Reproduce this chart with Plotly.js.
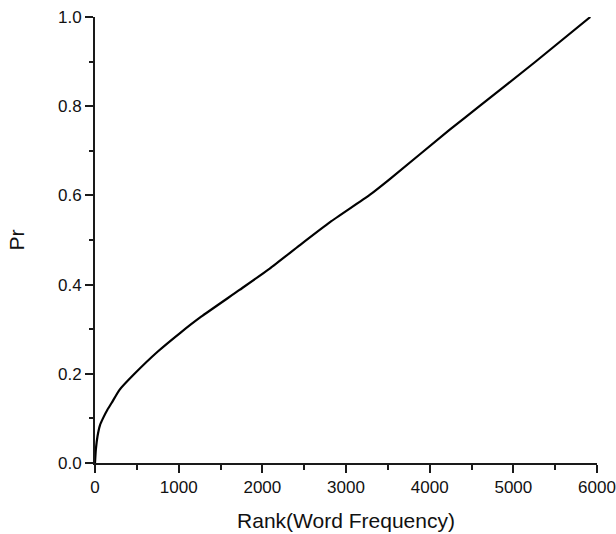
<!DOCTYPE html>
<html>
<head>
<meta charset="utf-8">
<script src="https://cdn.plot.ly/plotly-3.0.1.min.js"></script>
<style>
  html, body { margin: 0; padding: 0; background: #ffffff; }
  #chart { width: 616px; height: 534px; }
</style>
</head>
<body>
<div id="chart"></div>
<script>
// Cumulative probability Pr against word-frequency rank
const rank = [0, 10, 30, 60, 95, 150, 200, 293, 472, 751, 1020, 1269, 1727,
              2088, 2445, 2809, 3283, 3520, 4244, 4595, 5253, 5920];
const pr   = [0, 0.03, 0.06, 0.085, 0.1, 0.12, 0.135, 0.164, 0.2, 0.25, 0.292, 0.328, 0.388,
              0.436, 0.488, 0.540, 0.601, 0.636, 0.748, 0.800, 0.898, 1.0];

const xTicks = [0, 1000, 2000, 3000, 4000, 5000, 6000];
const yTicks = [0, 0.2, 0.4, 0.6, 0.8, 1.0];

const axisColor = '#1a1a1a';
const fontFamily = 'Liberation Sans, Arial, sans-serif';

const trace = {
  x: rank,
  y: pr,
  type: 'scatter',
  mode: 'lines',
  line: { color: '#000000', width: 2.2, shape: 'spline', smoothing: 0.5 },
  hoverinfo: 'skip'
};

const layout = {
  width: 616,
  height: 534,
  margin: { l: 95, r: 19, t: 17, b: 71 },
  paper_bgcolor: '#ffffff',
  plot_bgcolor: '#ffffff',
  showlegend: false,
  font: { family: fontFamily, color: '#111111' },
  xaxis: {
    range: [0, 6000],
    tickvals: xTicks,
    tickformat: 'd',
    ticks: 'outside',
    ticklen: 8,
    tickwidth: 2,
    tickcolor: axisColor,
    showline: true,
    linecolor: axisColor,
    linewidth: 2,
    showgrid: false,
    zeroline: false,
    tickfont: { size: 17, family: fontFamily, color: '#111111' },
    minor: { dtick: 500, ticks: 'outside', ticklen: 5, tickwidth: 2, tickcolor: axisColor, showgrid: false },
    title: { text: 'Rank(Word Frequency)', font: { size: 21, family: fontFamily, color: '#111111' }, standoff: 17 },
    automargin: false,
    fixedrange: true
  },
  yaxis: {
    range: [0, 1],
    tickvals: yTicks,
    tickformat: '.1f',
    ticks: 'outside',
    ticklen: 8,
    tickwidth: 2,
    tickcolor: axisColor,
    showline: true,
    linecolor: axisColor,
    linewidth: 2,
    showgrid: false,
    zeroline: false,
    tickfont: { size: 17, family: fontFamily, color: '#111111' },
    minor: { dtick: 0.1, ticks: 'outside', ticklen: 4, tickwidth: 2, tickcolor: axisColor, showgrid: false },
    title: { text: 'Pr', font: { size: 21, family: fontFamily, color: '#111111' }, standoff: 28 },
    automargin: false,
    fixedrange: true
  }
};

Plotly.newPlot('chart', [trace], layout, { displayModeBar: false, staticPlot: true });
</script>
</body>
</html>
